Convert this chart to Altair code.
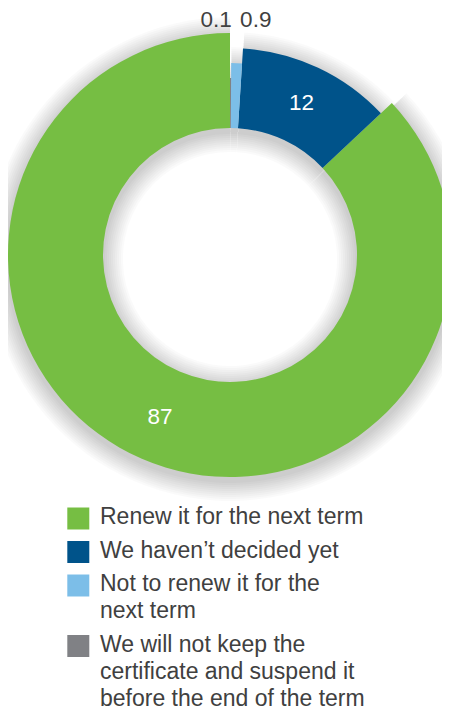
import altair as alt
import pandas as pd

# ---- data ----
categories = [
    "Renew it for the next term",
    "We haven’t decided yet",
    "Not to renew it for the next term",
    "We will not keep the certificate and suspend it before the end of the term",
]
values = [87, 12, 0.9, 0.1]
value_labels = ["87", "12", "0.9", "0.1"]
legend_labels = [
    "Renew it for the next term",
    "We haven’t decided yet",
    "Not to renew it for the\nnext term",
    "We will not keep the\ncertificate and suspend it\nbefore the end of the term",
]
colors = ["#76BE43", "#00538A", "#7CBEE8", "#808185"]

df = pd.DataFrame({
    "cat": categories,
    "value": values,
    "vlabel": value_labels,
    "legend": legend_labels,
    "idx": list(range(len(categories))),
})

FONT = "Liberation Sans"
TEXT = "#404040"
CX, CY = 222, 247

base = alt.Chart(df).transform_stack(
    stack="value", groupby=[], as_=["v0", "v1"],
    sort=[alt.SortField("idx", order="descending")],
).transform_calculate(mid="(datum.v0 + datum.v1) / 2")

color = alt.Color("cat:N", scale=alt.Scale(domain=categories, range=colors), legend=None)
theta_scale = alt.Scale(domain=[0, 100])

# soft drop shadow behind the ring
shadows = []
for k in range(1, 11):
    e = 2.0 * k
    shadows.append(
        base.mark_arc(stroke=None, opacity=0.02).encode(
            theta=alt.Theta("v0:Q", scale=theta_scale),
            theta2="v1:Q",
            radius=alt.Radius("idx:Q", scale=alt.Scale(domain=[0, 3], range=[222 + e, 177 + e], zero=False)),
            radius2=alt.value(127 - e),
            color=alt.value("black"),
            x=alt.value(CX), y=alt.value(CY + 4),
        )
    )

arcs = base.mark_arc(stroke=None).encode(
    theta=alt.Theta("v0:Q", scale=theta_scale),
    theta2="v1:Q",
    radius=alt.Radius("idx:Q", scale=alt.Scale(domain=[0, 3], range=[222, 177], zero=False)),
    radius2=alt.value(127),
    color=color,
    x=alt.value(CX), y=alt.value(CY),
)

inner_text = base.transform_filter("datum.idx <= 1").mark_text(
    font=FONT, fontSize=22.5, color="white", align="center", baseline="middle"
).encode(
    theta=alt.Theta("mid:Q", scale=theta_scale),
    radius=alt.Radius("idx:Q", scale=alt.Scale(domain=[0, 3], range=[176, 152], zero=False)),
    text="vlabel:N",
    x=alt.value(CX), y=alt.value(CY),
)

txt_gray = base.transform_filter("datum.idx == 3").mark_text(
    font=FONT, fontSize=22.5, color=TEXT, align="right", baseline="middle", dx=1
).encode(
    theta=alt.Theta("mid:Q", scale=theta_scale),
    radius=alt.value(235),
    text="vlabel:N",
    x=alt.value(CX), y=alt.value(CY),
)

txt_lblue = base.transform_filter("datum.idx == 2").mark_text(
    font=FONT, fontSize=22.5, color=TEXT, align="left", baseline="middle", dx=2
).encode(
    theta=alt.Theta("mid:Q", scale=theta_scale),
    radius=alt.value(235),
    text="vlabel:N",
    x=alt.value(CX), y=alt.value(CY),
)

leg = alt.Chart(df).transform_calculate(
    nl="length(split(datum.legend, '\\n'))"
).transform_window(
    cum="sum(nl)", sort=[alt.SortField("idx")], frame=[None, 0]
).transform_calculate(
    prev="datum.cum - datum.nl",
    ty="498 + datum.prev * 27 + datum.idx * 6.5",
    sy="510.5 + datum.prev * 27 + datum.idx * 6.5",
)

leg_sq = leg.mark_square(size=484, opacity=1, filled=True).encode(
    x=alt.value(70.3),
    y=alt.Y("sy:Q", scale=None, axis=None),
    color=color,
)

leg_txt = leg.mark_text(
    font=FONT, fontSize=23, color=TEXT, align="left", baseline="top",
    lineBreak="\n", lineHeight=27,
).encode(
    x=alt.value(92),
    y=alt.Y("ty:Q", scale=None, axis=None),
    text="legend:N",
)

chart = alt.layer(*shadows, arcs, inner_text, txt_gray, txt_lblue, leg_sq, leg_txt).resolve_scale(
    radius="independent"
).properties(
    width=434, height=699, autosize=alt.AutoSizeParams(type="none"), padding=0,
).configure_view(stroke=None)

chart.save("out.html", embed_options={"renderer": "svg", "actions": False})
